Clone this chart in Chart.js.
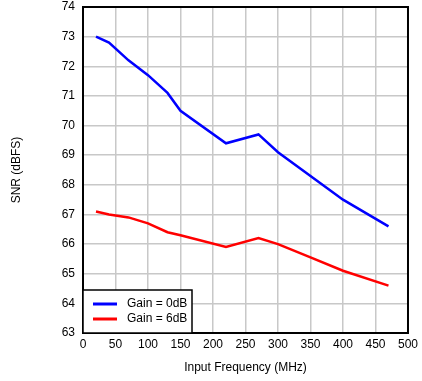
<!DOCTYPE html>
<html>
<head>
<meta charset="utf-8">
<script src="https://cdn.jsdelivr.net/npm/chart.js@4"></script>
<style>
  html, body { margin: 0; padding: 0; background: #fff; }
</style>
</head>
<body>
<canvas id="myChart" width="422" height="381"></canvas>
<script>
// values
var freqGain0 = [20, 40, 70, 100, 130, 150, 220, 270, 300, 350, 400, 470];
var snrGain0 = [73.0, 72.8, 72.2, 71.7, 71.1, 70.5, 69.4, 69.7, 69.1, 68.3, 67.5, 66.6];
var freqGain6 = [20, 40, 70, 100, 130, 150, 220, 270, 300, 350, 400, 470];
var snrGain6 = [67.1, 67.0, 66.9, 66.7, 66.4, 66.3, 65.9, 66.2, 66.0, 65.55, 65.1, 64.6];
var seriesNames = ['Gain = 0dB', 'Gain = 6dB'];
var xMin = 0, xMax = 500, xStep = 50;
var yMin = 63, yMax = 74, yStep = 1;

function toPoints(xs, ys) {
  var pts = [];
  for (var i = 0; i < xs.length; i++) {
    pts.push({ x: xs[i], y: ys[i] });
  }
  return pts;
}

var FONT = 'Arial, "Liberation Sans", Helvetica, sans-serif';
Chart.defaults.font.family = FONT;
Chart.defaults.font.size = 12;
Chart.defaults.color = '#000';

// legend box drawn inside the plot, bottom-left, plus the black frame
var insideLegend = {
  id: 'insideLegend',
  afterDraw: function (chart) {
    var ctx = chart.ctx;
    var a = chart.chartArea;
    ctx.save();
    // plot frame
    ctx.strokeStyle = '#000';
    ctx.lineWidth = 2;
    ctx.strokeRect(a.left, a.top, a.right - a.left, a.bottom - a.top);

    var boxW = 109, boxH = 43;
    var bx = a.left, by = a.bottom - boxH;
    ctx.fillStyle = '#fff';
    ctx.fillRect(bx, by, boxW, boxH);
    ctx.lineWidth = 1.5;
    ctx.strokeRect(bx, by, boxW, boxH);

    ctx.font = '12px ' + FONT;
    ctx.textBaseline = 'middle';
    chart.data.datasets.forEach(function (ds, i) {
      var y = by + 14 + i * 15;
      ctx.strokeStyle = ds.borderColor;
      ctx.lineWidth = 3;
      ctx.beginPath();
      ctx.moveTo(bx + 10, y);
      ctx.lineTo(bx + 34, y);
      ctx.stroke();
      ctx.fillStyle = '#000';
      ctx.fillText(ds.label, bx + 44, y);
    });
    ctx.restore();
  }
};

new Chart(document.getElementById('myChart'), {
  type: 'line',
  data: {
    datasets: [{
      label: seriesNames[0],
      data: toPoints(freqGain0, snrGain0),
      borderColor: '#0000ff',
      borderWidth: 2.5,
      pointRadius: 0,
      fill: false,
      tension: 0
    }, {
      label: seriesNames[1],
      data: toPoints(freqGain6, snrGain6),
      borderColor: '#ff0000',
      borderWidth: 2.5,
      pointRadius: 0,
      fill: false,
      tension: 0
    }]
  },
  options: {
    responsive: false,
    animation: false,
    layout: { padding: { left: 0, right: 12, top: 7, bottom: 0 } },
    plugins: {
      legend: { display: false },
      tooltip: { enabled: false }
    },
    scales: {
      x: {
        type: 'linear',
        min: xMin,
        max: xMax,
        border: { display: false },
        grid: { color: '#c8c8c8', lineWidth: 1.5, drawTicks: false },
        ticks: { stepSize: xStep, padding: 4, maxRotation: 0, autoSkip: false },
        title: { display: true, text: 'Input Frequency (MHz)', padding: { top: 0, bottom: 6 } },
        afterFit: function (scale) { scale.height = 48; }
      },
      y: {
        min: yMin,
        max: yMax,
        border: { display: false },
        grid: { color: '#c8c8c8', lineWidth: 1.5, drawTicks: false },
        ticks: { stepSize: yStep, padding: 8 },
        title: { display: true, text: 'SNR (dBFS)', padding: { top: 9, bottom: 0 } },
        afterFit: function (scale) {
          scale.width = 83;
          scale.paddingTop = 0;
          scale.paddingBottom = 0;
        }
      }
    }
  },
  plugins: [insideLegend]
});
</script>
</body>
</html>
